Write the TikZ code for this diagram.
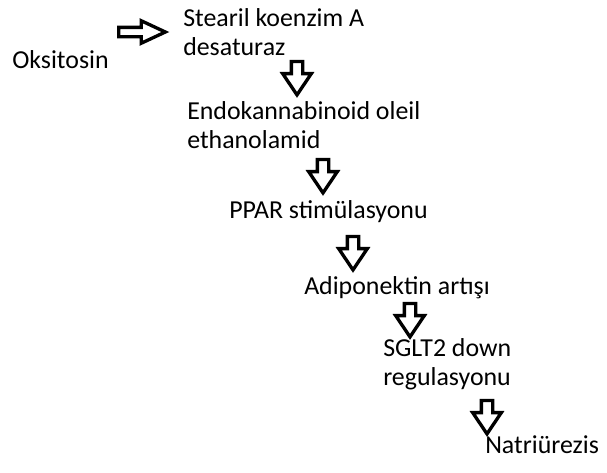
\documentclass[tikz,border=0pt]{standalone}
\usepackage{fontspec}
\setmainfont{Carlito}
\usetikzlibrary{shapes.arrows}

\tikzset{
  lbl/.style={anchor=base west, inner sep=0pt, align=left,
    font=\fontsize{19.4}{21.75}\selectfont},
  blockarrow/.style={single arrow, draw, line width=2.5pt, inner sep=0pt},
  rarrow/.style={blockarrow, minimum height=35pt, inner ysep=2.25pt,
    single arrow head extend=4.9pt, single arrow tip angle=50},
  darrow/.style={blockarrow, rotate=-90, minimum height=25pt, inner ysep=3pt,
    single arrow head extend=6.5pt, single arrow tip angle=68}}

\begin{document}
\begin{tikzpicture}[x=0.75pt,y=-0.75pt]
    \useasboundingbox (0,0) rectangle (607,472);
    \node[lbl] (oksitosin) at (12,68) {Oksitosin};
    \node[lbl] (scd) at (183,55) {Stearil koenzim A\\desaturaz};
    \node[lbl] (oea) at (187,148) {Endokannabinoid oleil\\ethanolamid};
    \node[lbl] (ppar) at (229,218) {PPAR stimülasyonu};
    \node[lbl] (adipo) at (304,294) {Adiponektin artışı};
    \node[lbl] (sglt) at (383,385) {SGLT2 down\\regulasyonu};
    \node[lbl] (natri) at (485,453) {Natriürezis};
    % block arrows
    \node[rarrow] (a1) at (137,32) {};
    \node[darrow] (a2) at (297,74) {};
    \node[darrow] (a3) at (323,172) {};
    \node[darrow] (a4) at (353,249) {};
    \node[darrow] (a5) at (410,316) {};
    \node[darrow] (a6) at (487,413) {};
\end{tikzpicture}
\end{document}
